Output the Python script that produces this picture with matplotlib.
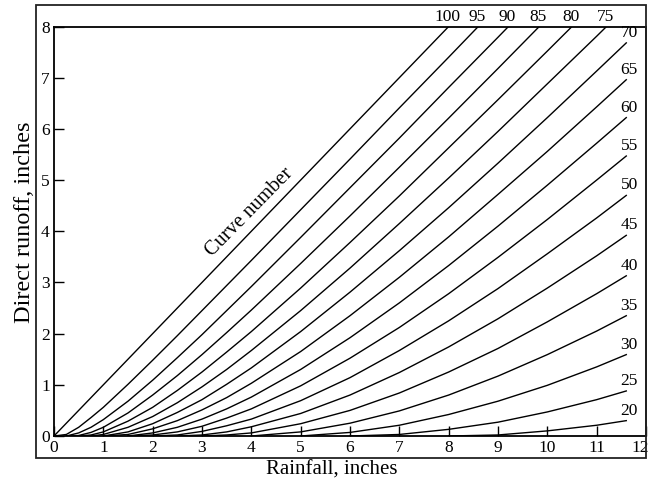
import matplotlib
matplotlib.use("Agg")
import matplotlib.pyplot as plt
from matplotlib.patches import Rectangle
from matplotlib.transforms import ScaledTranslation
import numpy as np

plt.rcParams["font.family"] = ["Liberation Serif", "DejaVu Serif"]

RAIN = [0, 0.25, 0.5, 0.75, 1, 1.5, 2, 2.5, 3, 3.5, 4, 5, 6, 7, 8, 9, 10, 11, 11.6]

# direct runoff (inches) per curve number, read along RAIN
q100 = [0, 0.25, 0.5, 0.75, 1, 1.5, 2, 2.5, 3, 3.5, 4, 5, 6, 7, 8, 9]
q95 = [0, 0.03, 0.17, 0.36, 0.56, 1.01, 1.48, 1.96, 2.45, 2.94, 3.43, 4.42, 5.41, 6.41, 7.40, 8.40]
q90 = [0, 0, 0.06, 0.17, 0.32, 0.68, 1.09, 1.53, 1.98, 2.45, 2.92, 3.88, 4.85, 5.82, 6.81, 7.79, 8.78]
q85 = [0, 0, 0.01, 0.07, 0.17, 0.45, 0.80, 1.18, 1.59, 2.02, 2.46, 3.37, 4.30, 5.25, 6.21, 7.18, 8.16]
q80 = [0, 0, 0, 0.02, 0.08, 0.29, 0.56, 0.89, 1.25, 1.64, 2.04, 2.89, 3.78, 4.69, 5.63, 6.57, 7.52, 8.48]
q75 = [0, 0, 0, 0, 0.03, 0.17, 0.38, 0.65, 0.96, 1.30, 1.67, 2.45, 3.28, 4.15, 5.04, 5.95, 6.88, 7.81, 8.38]
q70 = [0, 0, 0, 0, 0, 0.08, 0.24, 0.46, 0.71, 1.01, 1.33, 2.04, 2.81, 3.62, 4.46, 5.33, 6.22, 7.13, 7.68]
q65 = [0, 0, 0, 0, 0, 0.03, 0.14, 0.30, 0.51, 0.75, 1.03, 1.65, 2.35, 3.10, 3.89, 4.72, 5.56, 6.43, 6.96]
q60 = [0, 0, 0, 0, 0, 0, 0.06, 0.17, 0.33, 0.53, 0.76, 1.30, 1.92, 2.60, 3.33, 4.10, 4.90, 5.72, 6.22]
q55 = [0, 0, 0, 0, 0, 0, 0.02, 0.08, 0.19, 0.35, 0.53, 0.98, 1.52, 2.12, 2.78, 3.49, 4.23, 5.00, 5.47]
q50 = [0, 0, 0, 0, 0, 0, 0, 0.02, 0.09, 0.20, 0.33, 0.69, 1.14, 1.67, 2.25, 2.88, 3.56, 4.26, 4.70]
q45 = [0, 0, 0, 0, 0, 0, 0, 0, 0.02, 0.08, 0.18, 0.44, 0.80, 1.24, 1.74, 2.29, 2.89, 3.52, 3.92]
q40 = [0, 0, 0, 0, 0, 0, 0, 0, 0, 0.02, 0.06, 0.24, 0.50, 0.84, 1.25, 1.71, 2.23, 2.78, 3.13]
q35 = [0, 0, 0, 0, 0, 0, 0, 0, 0, 0, 0, 0.08, 0.25, 0.49, 0.80, 1.17, 1.59, 2.05, 2.35]
q30 = [0, 0, 0, 0, 0, 0, 0, 0, 0, 0, 0, 0, 0.07, 0.21, 0.42, 0.68, 0.99, 1.35, 1.59]
q25 = [0, 0, 0, 0, 0, 0, 0, 0, 0, 0, 0, 0, 0, 0.03, 0.13, 0.27, 0.47, 0.71, 0.88]
q20 = [0, 0, 0, 0, 0, 0, 0, 0, 0, 0, 0, 0, 0, 0, 0, 0.02, 0.10, 0.21, 0.30]

CURVE_NUMBERS = [100, 95, 90, 85, 80, 75, 70, 65, 60, 55, 50, 45, 40, 35, 30, 25, 20]
RUNOFF = [q100, q95, q90, q85, q80, q75, q70, q65, q60, q55, q50, q45, q40, q35, q30, q25, q20]

X_TICKS = list(range(0, 13))
Y_TICKS = list(range(0, 9))

W, H = 653, 486
fig = plt.figure(figsize=(W / 100, H / 100), dpi=100)

# outer frame around the whole chart
fig.patches.append(Rectangle((36 / W, 1 - 458 / H), (646 - 36) / W, (458 - 5) / H,
                             transform=fig.transFigure, fill=False, lw=1.3,
                             edgecolor="#222222"))

ax = fig.add_axes([54 / W, 1 - 436 / H, (646 - 54) / W, (436 - 26.5) / H])
ax.set_xlim(0, 12)
ax.set_ylim(0, 8)

for cn, q in zip(CURVE_NUMBERS, RUNOFF):
    q = np.asarray(q, dtype=float)
    x = np.asarray(RAIN[:len(q)], dtype=float)
    nz = np.nonzero(q)[0]
    i0 = max(nz[0] - 1, 0)
    ax.plot(x[i0:], q[i0:], color="black", lw=1.0)
    if q.max() >= 8:
        xe = np.interp(8, q[i0:], x[i0:])
        ax.annotate(str(cn), (xe, 8), xytext=(-1, 9.5), textcoords="offset pixels",
                    ha="center", va="center", fontsize=12.5, annotation_clip=False)
    else:
        ax.annotate(str(cn), (x[-1], q[-1]), xytext=(3, 10), textcoords="offset pixels",
                    ha="center", va="center", fontsize=12.5, annotation_clip=False)

ax.text(3.96, 4.37, "Curve number", rotation=45.5, ha="center", va="center",
        fontsize=14.5, rotation_mode="anchor")

ax.set_xticks(X_TICKS)
ax.set_yticks(Y_TICKS)
ax.tick_params(direction="in", length=7.5, width=1.0, labelsize=12.5, pad=3)
for s in ax.spines.values():
    s.set_linewidth(1.3)

# last x label sits against the frame edge
last = ax.get_xticklabels()[-1]
last.set_transform(last.get_transform() + ScaledTranslation(-6 / 100, 0, fig.dpi_scale_trans))

fig.text(332 / W, 1 - 470 / H, "Rainfall, inches", ha="center", va="center", fontsize=15)
fig.text(24 / W, 1 - 222 / H, "Direct runoff, inches", ha="center", va="center",
         rotation=90, fontsize=17.5)

fig.savefig("out.png", dpi=100)
